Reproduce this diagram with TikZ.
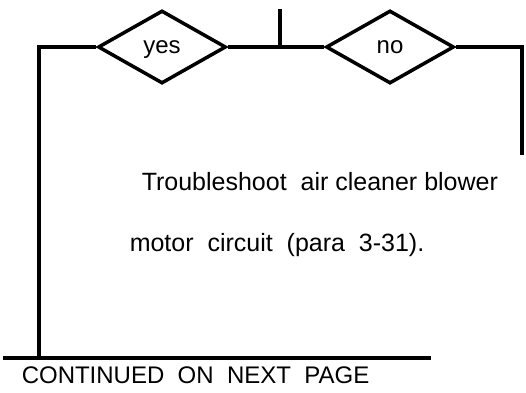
\documentclass[tikz,border=0pt]{standalone}
\usepackage{fontspec}
\setmainfont{Liberation Sans}
\usetikzlibrary{shapes.geometric}
\newcommand{\flowFont}{\fontsize{24}{28}\selectfont}
\newcommand{\bodyFont}{\fontsize{25}{30}\selectfont}

\begin{document}
\begin{tikzpicture}[x=1pt,y=-1pt,line width=3.5pt,
  decision/.style={draw, diamond, inner sep=0pt, text depth=0pt, minimum width=128pt, minimum height=73pt, font=\flowFont},
  flowtext/.style={anchor=base west, inner sep=0pt, font=\bodyFont}]
\useasboundingbox (0,0) rectangle (526,392);
\node[decision] (yes) at (162,47) {yes};
\node[decision] (no) at (390,47) {no};
\coordinate (top) at (280,9);
\coordinate (join) at (280,47);
\coordinate (leftturn) at (39,47);
\coordinate (leftend) at (39,358);
\coordinate (rightturn) at (522,47);
\coordinate (rightend) at (522,155);
\coordinate (barleft) at (3,358);
\coordinate (barright) at (431,358);
\draw (top) -- (join);
\draw (yes.east) -- (no.west);
\draw (yes.west) -- (leftturn) -- (leftend);
\draw (no.east) -- (rightturn) -- (rightend);
\draw (barleft) -- (barright);
\node[flowtext] (fix1) at (140,190) {Troubleshoot\ \ air cleaner blower};
\node[flowtext] (fix2) at (128,251) {motor\ \ circuit\ \ (para\ \ 3-31).};
\node[flowtext, font=\flowFont] (cont) at (20,383) {CONTINUED\ \ ON\ \ NEXT\ \ PAGE};
\end{tikzpicture}
\end{document}
